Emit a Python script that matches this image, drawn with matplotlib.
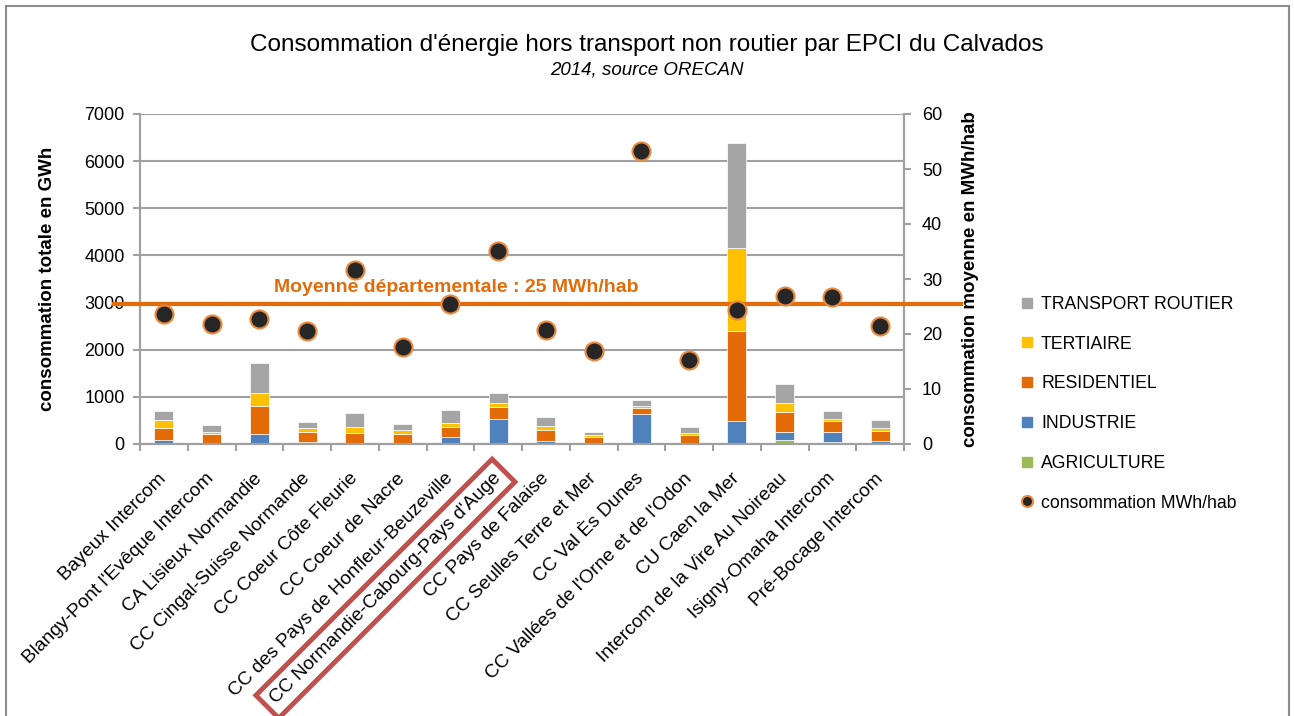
import matplotlib
matplotlib.use("Agg")
import matplotlib.pyplot as plt
from matplotlib.lines import Line2D
from matplotlib.patches import Rectangle
import numpy as np

plt.rcParams['font.family'] = ['Liberation Sans', 'DejaVu Sans']

epci = ["Bayeux Intercom", "Blangy-Pont l'Evêque Intercom", "CA Lisieux Normandie",
        "CC Cingal-Suisse Normande", "CC Coeur Côte Fleurie", "CC Coeur de Nacre",
        "CC des Pays de Honfleur-Beuzeville", "CC Normandie-Cabourg-Pays d'Auge",
        "CC Pays de Falaise", "CC Seulles Terre et Mer", "CC Val Ès Dunes",
        "CC Vallées de l'Orne et de l'Odon", "CU Caen la Mer",
        "Intercom de la Vire Au Noireau", "Isigny-Omaha Intercom", "Pré-Bocage Intercom"]

agriculture = [5, 5, 15, 5, 5, 5, 5, 5, 30, 5, 5, 5, 20, 95, 50, 30]
industrie = [90, 20, 205, 45, 10, 10, 140, 520, 40, 10, 630, 10, 475, 165, 210, 40]
residentiel = [245, 185, 580, 215, 215, 195, 210, 255, 220, 125, 120, 175, 1910, 420, 230, 200]
tertiaire = [170, 55, 290, 70, 130, 80, 100, 80, 85, 45, 55, 45, 1745, 190, 50, 75]
transport_routier = [190, 135, 620, 135, 290, 125, 275, 220, 190, 75, 115, 125, 2235, 410, 160, 165]

conso_hab = [23.6, 21.9, 22.7, 20.6, 31.6, 17.7, 25.5, 35.1, 20.7, 16.9, 53.3, 15.2,
             24.4, 27.0, 26.7, 21.4]

moyenne_dept = 25.5
moyenne_label = "Moyenne départementale : 25 MWh/hab"

secteurs = ["AGRICULTURE", "INDUSTRIE", "RESIDENTIEL", "TERTIAIRE", "TRANSPORT ROUTIER"]
couleurs = ["#9BBB59", "#4F81BD", "#E36C09", "#FFC000", "#A5A5A5"]

fig = plt.figure(figsize=(12.94, 7.16), dpi=100)
ax = fig.add_axes([140 / 1294, 1 - 444 / 716, 764 / 1294, 330 / 716])
ax2 = ax.twinx()

x = np.arange(len(epci))
bas = np.zeros(len(epci))
for nom, vals, c in zip(secteurs, [agriculture, industrie, residentiel, tertiaire, transport_routier], couleurs):
    ax.bar(x, vals, 0.4, bottom=bas, color=c, edgecolor='white', linewidth=0.5, zorder=2)
    bas += np.array(vals)

ax.set_xlim(-0.5, len(epci) - 0.5)
ax.set_ylim(0, 7000)
ax.set_yticks(np.arange(0, 7001, 1000))
ax.yaxis.grid(True, color='#A0A0A0', linewidth=1.5, zorder=0)
ax.set_axisbelow(True)

# graduations entre les catégories
ax.set_xticks(np.arange(-0.5, len(epci), 1.0), minor=True)
ax.set_xticks(x)
ax.set_xticklabels(epci, rotation=45, ha='right', va='center', rotation_mode='anchor', fontsize=13.8)
ax.tick_params(axis='x', which='major', length=0, pad=23)
ax.tick_params(axis='x', which='minor', length=5, color='#A0A0A0', width=1.5)
ax.tick_params(axis='y', length=5, color='#A0A0A0', width=1.5, labelsize=13, pad=6)

for a in (ax, ax2):
    a.spines['top'].set_visible(False)
    for s in ('left', 'right', 'bottom'):
        a.spines[s].set_color('#A0A0A0')
        a.spines[s].set_linewidth(1.5)

ax.set_ylabel("consommation totale en GWh", fontsize=13.5, fontweight='bold', labelpad=20)

# axe secondaire
ax2.set_ylim(0, 60)
ax2.set_yticks(np.arange(0, 61, 10))
ax2.tick_params(axis='y', length=5, color='#A0A0A0', width=1.5, labelsize=13, pad=8)
ax2.set_ylabel("consommation moyenne en MWh/hab", fontsize=13.5, fontweight='bold', labelpad=14)

ax2.axhline(moyenne_dept, xmin=-0.034, xmax=1.075, color='#E36C09', linewidth=3,
            clip_on=False, zorder=3)
ax2.text(2.3, moyenne_dept + 1.4, moyenne_label, color='#E36C09', fontsize=14,
         fontweight='bold', va='bottom', ha='left', zorder=4)
ax2.plot(x, conso_hab, linestyle='none', marker='o', markersize=13,
         markerfacecolor='#262626', markeredgecolor='#E98A3E', markeredgewidth=1.5, zorder=5)

# cadre rouge autour de l'EPCI mis en avant
lab = ax.get_xticklabels()[7]
lab.set_bbox(dict(boxstyle='square,pad=0.4', facecolor='none', edgecolor='#C0504D', linewidth=3.5))

# titre
fig.text(0.5, 1 - 45 / 716, "Consommation d'énergie hors transport non routier par EPCI du Calvados",
         ha='center', va='center', fontsize=17.5)
fig.text(0.5, 1 - 70 / 716, "2014, source ORECAN", ha='center', va='center',
         fontsize=13.5, style='italic')

# légende
handles = [Line2D([], [], linestyle='none', marker='s', markersize=7.5, color=c)
           for c in couleurs[::-1]]
handles.append(Line2D([], [], linestyle='none', marker='o', markersize=8,
                      markerfacecolor='#262626', markeredgecolor='#E98A3E', markeredgewidth=1.5))
labels = secteurs[::-1] + ["consommation MWh/hab"]
fig.legend(handles, labels, loc='upper left', bbox_to_anchor=(1004 / 1294, 1 - 280 / 716),
           frameon=False, fontsize=12.7, handlelength=0.8, handletextpad=0.4, labelspacing=1.29)

# bordure de la zone graphique
fig.add_artist(Rectangle((6 / 1294, -0.01), 1283 / 1294, 1 - 6 / 716 + 0.01, transform=fig.transFigure,
                         facecolor='none', edgecolor='#8C8C8C', linewidth=1.5))

fig.savefig("out.png", dpi=100)
